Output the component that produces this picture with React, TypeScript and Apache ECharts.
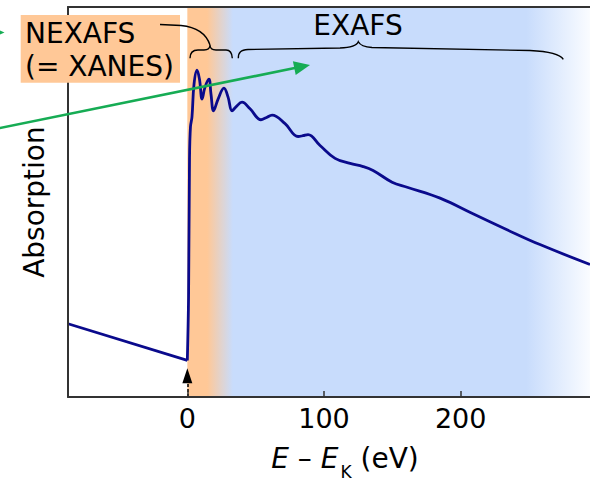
import React, { useEffect, useRef } from "react";
import * as echarts from "echarts";

// ---- data (energy relative to K edge, eV; absorption in arbitrary units 0-10) ----
const preEdgeEnergy = [-87.3, 0];
const preEdgeAbsorption = [1.88, 0.94];

const postEdgeEnergy = [0, 0.9, 1.6, 2.3, 3.4, 4.9, 7.1, 8.9, 10.8, 12.9, 15.8, 17.3, 19.2, 22.5, 26.8, 29.8, 32.7, 35.6, 40.0, 45.9, 53.9, 57.6, 62.0, 71.5, 81.0, 84.6, 88.3, 97.1, 108.1, 119.1, 128.6, 135.9, 149.8, 160.8, 184.9, 209.0, 233.9, 258.0, 294.6];
const postEdgeAbsorption = [0.94, 2.56, 6.12, 6.93, 7.18, 8.02, 8.38, 8.15, 7.64, 7.94, 8.15, 7.77, 7.34, 7.64, 7.92, 7.69, 7.34, 7.44, 7.56, 7.39, 7.11, 7.16, 7.23, 7.01, 6.68, 6.70, 6.73, 6.45, 6.12, 5.99, 5.91, 5.81, 5.51, 5.38, 5.10, 4.70, 4.29, 3.91, 3.40];

const xTickValues = [0, 100, 200];
const xMin = -87.3;
const xMax = 294.6;
const yMin = 0;
const yMax = 10;

// region boundaries (eV)
const nexafsSolidEnd = 14.5;
const exafsStart = 33.4;
const exafsFadeStart = 248;
const edgeArrowTop = 0.55;

const FONT = "DejaVu Sans";
const ORANGE = "#ffc897";
const BLUE = "#c8dcfc";
const GREEN = "#16ac54";
const NAVY = "#0a0a8c";

echarts.graphic.registerShape(
  "braceNexafs",
  echarts.graphic.extendPath(
    "M190,58.3 C190,52 193,50 198,50 L204,50 C208,50 210,48 210,45 C210,48 212,50 216,50 L226,50 C230,50 232,52 232.3,58.3 M160,24.5 L181,25.5 C196,27 206,33 210,45",
    {}
  )
);
echarts.graphic.registerShape(
  "braceExafs",
  echarts.graphic.extendPath(
    "M238.3,58.3 C238.3,52 241,50 248,49.5 L340,48 C352,47.5 357,45 358.3,41.7 C360,45 364,47 372,47.5 L530,50.5 C550,51.5 560,54 563.3,59.3",
    {}
  )
);

export default function App() {
  const ref = useRef<HTMLDivElement>(null);
  useEffect(() => {
    if (!ref.current) return;
    const chart = echarts.init(ref.current, undefined, { renderer: "svg" });
    const span = xMax - 0;
    const areaGradient = new echarts.graphic.LinearGradient(0, 0, 1, 0, [
      { offset: 0, color: ORANGE },
      { offset: nexafsSolidEnd / span, color: ORANGE },
      { offset: exafsStart / span, color: BLUE },
      { offset: exafsFadeStart / span, color: BLUE },
      { offset: 1, color: "#fafcff" },
    ]);
    const axisLineStyle = { color: "#333333", width: 2 };
    chart.setOption({
      animation: false,
      grid: { left: 68, right: 0, top: 7, bottom: 84 },
      xAxis: [
        {
          type: "value",
          min: xMin,
          max: xMax,
          z: 5,
          axisLine: { show: true, onZero: false, lineStyle: axisLineStyle },
          axisTick: { show: true, inside: true, length: 6, customValues: xTickValues, lineStyle: { color: "#333", width: 1.5 } },
          axisLabel: { customValues: xTickValues, fontSize: 27, fontFamily: FONT, color: "#000", margin: 8 },
          splitLine: { show: false },
          name: "{i|E} – {i|E}{sub|K} (eV)",
          nameLocation: "middle",
          nameGap: 37,
          nameTextStyle: {
            fontSize: 28,
            fontFamily: FONT,
            color: "#000",
            padding: [0, 0, 0, 32],
            rich: {
              i: { fontStyle: "italic", fontSize: 28, fontFamily: FONT, color: "#000" },
              sub: { fontSize: 17, fontFamily: FONT, color: "#000", lineHeight: 17, padding: [26, 0, 0, 2] },
            },
          },
        },
        {
          type: "value",
          position: "top",
          min: xMin,
          max: xMax,
          z: 5,
          axisLine: { show: true, onZero: false, lineStyle: axisLineStyle },
          axisTick: { show: false },
          axisLabel: { show: false },
          splitLine: { show: false },
        },
      ],
      yAxis: {
        type: "value",
        min: yMin,
        max: yMax,
        z: 5,
        axisLine: { show: true, onZero: false, lineStyle: axisLineStyle },
        axisTick: { show: false },
        axisLabel: { show: false },
        splitLine: { show: false },
        name: "Absorption",
        nameLocation: "middle",
        nameGap: 20,
        nameTextStyle: { fontSize: 28, fontFamily: FONT, color: "#000" },
      },
      series: [
        {
          type: "line",
          name: "pre-edge",
          data: preEdgeEnergy.map((e, i) => [e, preEdgeAbsorption[i]]),
          showSymbol: false,
          lineStyle: { color: NAVY, width: 2.8 },
          z: 3,
          markArea: {
            silent: true,
            itemStyle: { color: areaGradient },
            data: [[{ coord: [0, yMin] }, { coord: [xMax, yMax] }]],
          },
          markLine: {
            silent: true,
            symbol: ["none", "path://M5,0 L10,14 L0,14 Z"],
            symbolSize: [10, 15],
            label: { show: false },
            lineStyle: { color: "#000", type: [3, 2], width: 1.5 },
            itemStyle: { color: "#000" },
            data: [[{ coord: [0, yMin] }, { coord: [0, edgeArrowTop] }]],
          },
        },
        {
          type: "line",
          name: "post-edge",
          data: postEdgeEnergy.map((e, i) => [e, postEdgeAbsorption[i]]),
          showSymbol: false,
          smooth: 0.4,
          lineStyle: { color: NAVY, width: 2.8 },
          z: 3,
        },
      ],
      graphic: [
        { type: "rect", z: 50, shape: { x: 20.7, y: 15, width: 159.3, height: 67.7 }, style: { fill: ORANGE } },
        { type: "text", z: 51, x: 25, y: 33, style: { text: "NEXAFS", font: `28px "${FONT}"`, fill: "#000", verticalAlign: "middle" } },
        { type: "text", z: 51, x: 25, y: 66, style: { text: "(= XANES)", font: `28px "${FONT}"`, fill: "#000", verticalAlign: "middle" } },
        { type: "text", z: 51, x: 358, y: 25, style: { text: "EXAFS", font: `28px "${FONT}"`, fill: "#000", align: "center", verticalAlign: "middle" } },
        { type: "braceNexafs", z: 51, x: 0, y: 0, style: { stroke: "#000", fill: "none", lineWidth: 1.4 } },
        { type: "braceExafs", z: 51, x: 0, y: 0, style: { stroke: "#000", fill: "none", lineWidth: 1.4 } },
        { type: "line", z: 60, shape: { x1: -5, y1: 129, x2: 296, y2: 67.8 }, style: { stroke: GREEN, lineWidth: 2.6 } },
        { type: "polygon", z: 60, shape: { points: [[310, 65], [295.7, 75.1], [292.9, 61.3]] }, style: { fill: GREEN } },
        { type: "polygon", z: 60, shape: { points: [[4.5, 32.5], [-10, 26], [-10, 39]] }, style: { fill: GREEN } },
      ],
    });
    return () => chart.dispose();
  }, []);
  return <div ref={ref} style={{ position: "absolute", left: 0, top: 0, width: 590, height: 485 }} />;
}
